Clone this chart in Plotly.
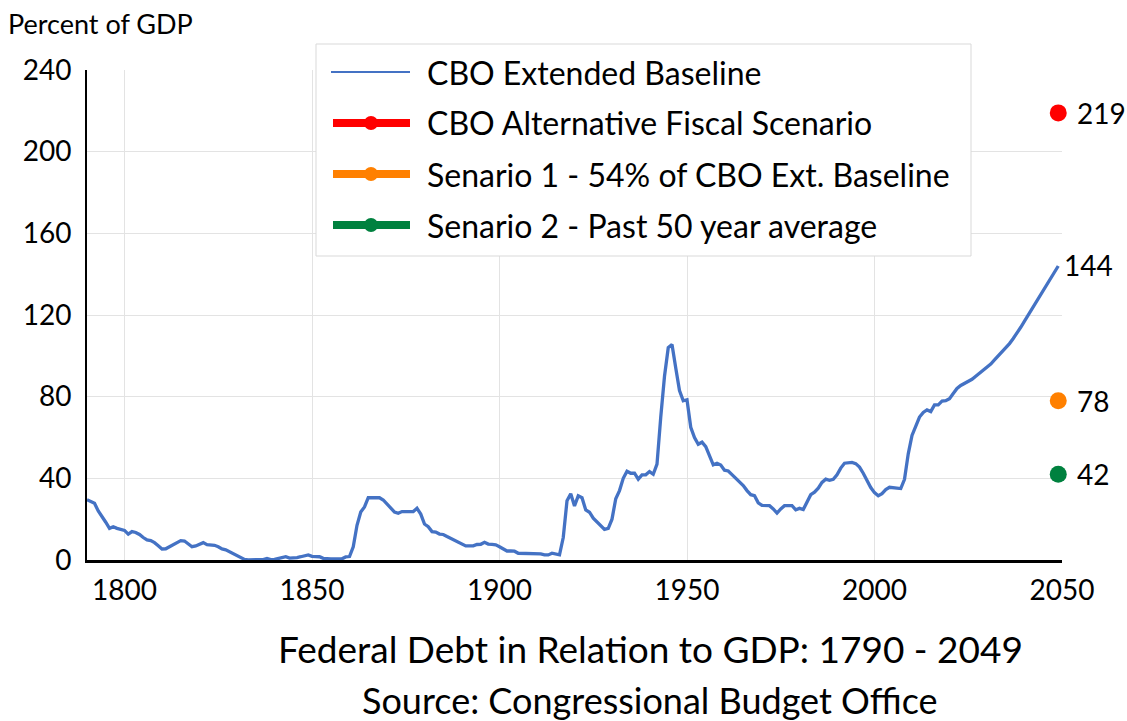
import plotly.graph_objects as go

# ---- data ----
years = list(range(1790, 2050))
debt = [
    29.5, 28.5, 27.8, 24.0, 21.5, 18.5, 15.5, 16.3, 15.5, 15.2,   # 1790s
    14.5, 12.7, 13.9, 13.5, 12.5, 11.0, 9.8, 9.5, 8.5, 7.0,       # 1800s
    5.4, 5.5, 6.5, 7.5, 8.5, 9.5, 9.3, 8.0, 6.5, 6.9,             # 1810s
    7.5, 8.5, 7.5, 7.4, 7.2, 6.5, 5.4, 5.0, 4.0, 3.0,             # 1820s
    2.0, 1.0, 0.3, 0.1, 0.1, 0.0, 0.0, 0.2, 0.8, 0.2,             # 1830s
    0.3, 0.8, 1.2, 1.6, 0.9, 0.9, 1.2, 1.6, 2.0, 2.5,             # 1840s
    1.8, 1.6, 1.6, 0.8, 0.5, 0.5, 0.5, 0.5, 0.6, 1.5,             # 1850s
    1.7, 6.5, 17.0, 23.5, 26.0, 30.5, 30.5, 30.5, 30.5, 29.4,     # 1860s
    27.5, 25.5, 23.5, 22.9, 23.7, 23.7, 23.7, 23.7, 25.3, 22.5,   # 1870s
    17.6, 16.3, 13.9, 13.7, 12.7, 12.5, 11.5, 10.5, 9.5, 8.5,     # 1880s
    7.6, 6.9, 6.9, 6.9, 7.6, 7.7, 8.7, 7.8, 7.6, 7.4,             # 1890s
    6.5, 5.3, 4.4, 4.4, 4.3, 3.3, 3.3, 3.3, 3.3, 3.3,             # 1900s
    3.3, 3.0, 2.5, 2.5, 3.3, 2.7, 2.5, 11.0, 29.0, 32.4,          # 1910s
    26.5, 31.4, 30.5, 24.5, 23.4, 20.5, 18.8, 17.0, 15.0, 15.5,   # 1920s
    20.0, 30.0, 34.0, 40.0, 43.5, 42.5, 42.5, 39.6, 41.7, 41.7,   # 1930s
    43.3, 42.0, 47.0, 70.0, 90.0, 104.0, 105.5, 94.0, 83.0, 78.0, # 1940s
    78.5, 65.0, 60.0, 56.7, 57.7, 55.5, 51.0, 46.6, 47.4, 46.5,   # 1950s
    44.0, 43.6, 41.8, 40.0, 38.4, 36.5, 34.0, 32.0, 31.5, 28.0,   # 1960s
    26.8, 26.6, 26.6, 25.0, 23.0, 25.0, 26.6, 26.6, 26.6, 24.6,   # 1970s
    25.3, 24.7, 28.5, 32.0, 33.2, 35.2, 38.0, 39.6, 39.0, 39.5,   # 1980s
    41.7, 45.0, 47.4, 47.8, 47.8, 47.2, 45.5, 42.5, 39.0, 35.5,   # 1990s
    33.0, 31.5, 32.5, 34.5, 35.6, 35.3, 35.0, 35.0, 39.5, 52.0,   # 2000s
    61.0, 66.0, 70.0, 72.3, 73.5, 72.7, 76.0, 76.0, 77.8, 78.0,   # 2010s
    79.0, 81.5, 84.0, 85.5, 86.5, 87.5, 88.5, 90.0, 91.5, 92.5,   # 2020s
    94.5, 96.0, 98.0, 100.0, 102.0, 103.5, 106.0, 108.5, 111.0, 114.0,  # 2030s
    117.0, 120.0, 123.0, 126.0, 129.0, 131.5, 134.5, 138.0, 141.0, 144.0, # 2040s
]

scenario_names = ["CBO Alternative Fiscal Scenario",
                  "Senario 1 - 54% of CBO Ext. Baseline",
                  "Senario 2 - Past 50 year average"]
scenario_year = 2049
scenario_values = [219, 78, 42]
scenario_colors = ["#FF0000", "#FF8000", "#00813F"]
baseline_name = "CBO Extended Baseline"
baseline_color = "#4472C4"

x_ticks = [1800, 1850, 1900, 1950, 2000, 2050]
y_ticks = [0, 40, 80, 120, 160, 200, 240]

FONT = "Lato"

fig = go.Figure()
fig.add_trace(go.Scatter(x=years, y=debt, mode="lines",
                         line=dict(color=baseline_color, width=3.3),
                         showlegend=False, hoverinfo="skip"))
for name, v, c in zip(scenario_names, scenario_values, scenario_colors):
    fig.add_trace(go.Scatter(x=[scenario_year], y=[v], mode="markers",
                             marker=dict(color=c, size=17), cliponaxis=False,
                             showlegend=False, name=name))

# value labels
for v in scenario_values:
    fig.add_annotation(x=scenario_year, y=v, text=str(v), showarrow=False,
                       xanchor="left", yanchor="middle", xshift=17,
                       font=dict(family=FONT, size=28, color="black"))
fig.add_annotation(x=years[-1], y=debt[-1], text=str(int(debt[-1])), showarrow=False,
                   xanchor="left", yanchor="middle", xshift=4, yshift=1,
                   font=dict(family=FONT, size=28, color="black"))

# ---- custom legend (paper coordinates) ----
L, R, T, B = 87, 1062, 70, 560
W, H = R - L, B - T
def px(xp): return (xp - L) / W
def py(yp): return (B - yp) / H

shapes = [dict(type="rect", xref="paper", yref="paper",
               x0=px(316), x1=px(971), y0=py(256), y1=py(44),
               fillcolor="white", line=dict(color="#d9d9d9", width=1), layer="above")]
rows = [72, 123, 174, 225]
names = [baseline_name] + scenario_names
colors = [baseline_color] + scenario_colors
for i, (yr, nm, c) in enumerate(zip(rows, names, colors)):
    if i == 0:
        shapes.append(dict(type="line", xref="paper", yref="paper",
                           x0=px(331), x1=px(410), y0=py(yr), y1=py(yr),
                           line=dict(color=c, width=2.2), layer="above"))
    else:
        shapes.append(dict(type="line", xref="paper", yref="paper",
                           x0=px(333), x1=px(410), y0=py(yr), y1=py(yr),
                           line=dict(color=c, width=8), layer="above"))
        shapes.append(dict(type="circle", xref="paper", yref="paper",
                           xsizemode="pixel", ysizemode="pixel",
                           xanchor=px(371), yanchor=py(yr),
                           x0=-7, x1=7, y0=-7, y1=7,
                           fillcolor=c, line=dict(color=c, width=0), layer="above"))
    fig.add_annotation(xref="paper", yref="paper", x=px(425), y=py(yr),
                       text=nm, showarrow=False, xanchor="left", yanchor="middle",
                       font=dict(family=FONT, size=32, color="black"))

# axis title and captions
fig.add_annotation(xref="paper", yref="paper", x=px(6), y=py(24), text="Percent of GDP",
                   showarrow=False, xanchor="left", yanchor="middle",
                   font=dict(family=FONT, size=27, color="black"))
fig.add_annotation(xref="paper", yref="paper", x=px(650), y=py(648),
                   text="Federal Debt in Relation to GDP: 1790 - 2049",
                   showarrow=False, xanchor="center", yanchor="middle",
                   font=dict(family=FONT, size=37, color="black"))
fig.add_annotation(xref="paper", yref="paper", x=px(650), y=py(700),
                   text="Source: Congressional Budget Office",
                   showarrow=False, xanchor="center", yanchor="middle",
                   font=dict(family=FONT, size=36, color="black"))

fig.update_layout(
    width=1127, height=721,
    margin=dict(l=L, r=1127 - R, t=T, b=721 - B),
    plot_bgcolor="white", paper_bgcolor="white",
    shapes=shapes, showlegend=False,
    font=dict(family=FONT, color="black"),
)
fig.update_xaxes(range=[1790, 2050], tickvals=x_ticks, ticktext=[str(t) for t in x_ticks],
                 showgrid=True, gridcolor="#e3e3e3", gridwidth=1,
                 showline=True, linecolor="black", linewidth=2.5,
                 ticks="", ticklabelstandoff=4, tickfont=dict(family=FONT, size=28, color="black"),
                 zeroline=False, fixedrange=True)
fig.update_yaxes(range=[0, 240], tickvals=y_ticks, ticktext=[str(t) for t in y_ticks],
                 showgrid=True, gridcolor="#e3e3e3", gridwidth=1,
                 showline=True, linecolor="black", linewidth=1.8,
                 ticks="", ticklabelstandoff=8, tickfont=dict(family=FONT, size=28, color="black"),
                 zeroline=False, fixedrange=True)

fig.write_html("out.html", config={"displayModeBar": False},
               post_script="document.body.style.margin='0';")
